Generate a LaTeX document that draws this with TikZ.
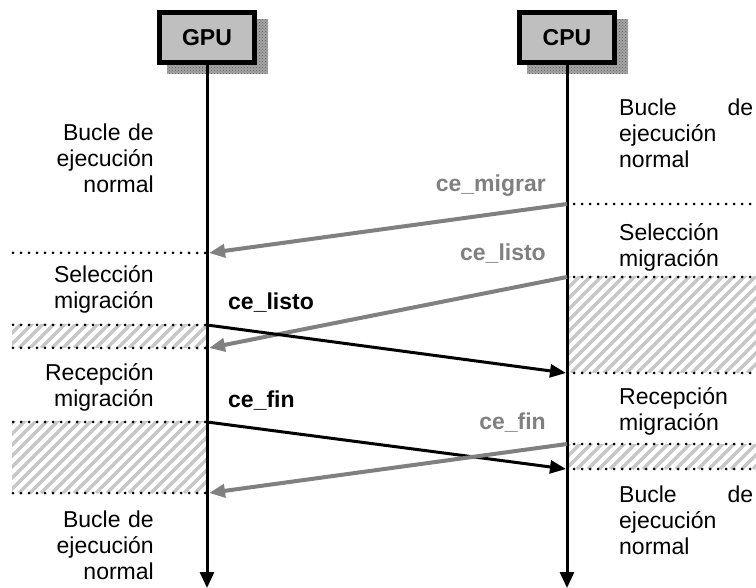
\documentclass[tikz,border=0pt]{standalone}
\usepackage{fontspec}
\setmainfont{Liberation Sans}
\usetikzlibrary{arrows.meta,patterns}
\begin{document}
\begin{tikzpicture}[x=1pt,y=-1pt,
  every node/.style={font=\fontsize{23}{26}\selectfont, inner sep=0pt},
  box/.style={draw=black, line width=5pt, fill=black!25, minimum width=95pt, minimum height=50pt, font=\fontsize{23}{26}\selectfont\bfseries},
  shadowfill/.style={fill=black!35},
  shadowdots/.style={pattern=crosshatch dots, pattern color=black!65},
  life/.style={line width=3pt, -{Triangle[length=16pt,width=14pt]}},
  dotline/.style={line width=3pt, dash pattern=on 0pt off 8pt, line cap=round},
  hatchline/.style={line width=3.5pt, black!22},
  msgg/.style={line width=4pt, black!50, -{Triangle[length=16pt,width=13pt]}},
  msgk/.style={line width=3pt, black, -{Triangle[length=16pt,width=13pt]}},
  lblg/.style={font=\fontsize{23}{26}\selectfont\bfseries, text=black!50},
  lblk/.style={font=\fontsize{23}{26}\selectfont\bfseries},
  ltext/.style={anchor=base east, align=right, text width=140pt},
  rtext/.style={anchor=base west, align=left, text width=134pt},
]
\useasboundingbox (0,0) rectangle (756,588);

% hatched regions
\begin{scope}
  \clip (12,325) rectangle (206,348);
  \foreach \i in {-80,-69,...,220} \draw[hatchline] (\i,348) -- ++(40,-40);
\end{scope}
\begin{scope}
  \clip (12,422) rectangle (206,493);
  \foreach \i in {-80,-69,...,220} \draw[hatchline] (\i,493) -- ++(90,-90);
\end{scope}
\begin{scope}
  \clip (568,277) rectangle (756,373);
  \foreach \i in {450,461,...,770} \draw[hatchline] (\i,373) -- ++(110,-110);
\end{scope}
\begin{scope}
  \clip (568,444) rectangle (756,469);
  \foreach \i in {500,511,...,770} \draw[hatchline] (\i,469) -- ++(40,-40);
\end{scope}

% shadows
\fill[shadowfill] (167,19) rectangle (268,74);
\fill[shadowdots] (167,19) rectangle (268,74);
\fill[shadowfill] (527,19) rectangle (628,74);
\fill[shadowdots] (527,19) rectangle (628,74);

% boxes
\node[box] (gpu) at (207,37.5) {GPU};
\node[box] (cpu) at (567,37.5) {CPU};

% lifelines
\coordinate (gpuend) at (207,588);
\coordinate (cpuend) at (567,588);
\draw[life] (gpu.south) -- (gpuend);
\draw[life] (cpu.south) -- (cpuend);

% dotted separators
\draw[dotline] (574,204) -- (756,204);
\draw[dotline] (574,277) -- (756,277);
\draw[dotline] (574,373) -- (756,373);
\draw[dotline] (574,444) -- (756,444);
\draw[dotline] (574,469) -- (756,469);
\draw[dotline] (13,253) -- (205,253);
\draw[dotline] (13,325) -- (205,325);
\draw[dotline] (13,348) -- (205,348);
\draw[dotline] (13,422) -- (205,422);
\draw[dotline] (13,493) -- (205,493);

% message endpoints
\coordinate (m1s) at (567,204); \coordinate (m1e) at (209,253);
\coordinate (m2s) at (567,277); \coordinate (m2e) at (209,348);
\coordinate (m3s) at (207,325); \coordinate (m3e) at (566,373);
\coordinate (m4s) at (207,422); \coordinate (m4e) at (566,469);
\coordinate (m5s) at (567,444); \coordinate (m5e) at (209,493);

\draw[msgg] (m1s) -- (m1e);
\draw[msgg] (m2s) -- (m2e);
\draw[msgk] (m3s) -- (m3e);
\draw[msgk] (m4s) -- (m4e);
\draw[msgg] (m5s) -- (m5e);

% message labels
\node[lblg, anchor=base east] (l1) at (546,192) {ce\_migrar};
\node[lblg, anchor=base east] (l2) at (546,261) {ce\_listo};
\node[lblk, anchor=base west] (l3) at (228,310) {ce\_listo};
\node[lblk, anchor=base west] (l4) at (228,407) {ce\_fin};
\node[lblg, anchor=base east] (l5) at (546,430) {ce\_fin};

% state texts, GPU side
\node[ltext] (g1) at (154,141) {Bucle de\\ejecución\\normal};
\node[ltext] (g2) at (154,283) {Selección\\migración};
\node[ltext] (g3) at (154,381) {Recepción\\migración};
\node[ltext] (g4) at (154,527) {Bucle de\\ejecución\\normal};

% state texts, CPU side
\node[rtext] (c1) at (619,116) {Bucle\hfill de\\ejecución\\normal};
\node[rtext] (c2) at (619,241) {Selección\\migración};
\node[rtext] (c3) at (619,405) {Recepción\\migración};
\node[rtext] (c4) at (619,502) {Bucle\hfill de\\ejecución\\normal};
\end{tikzpicture}
\end{document}
